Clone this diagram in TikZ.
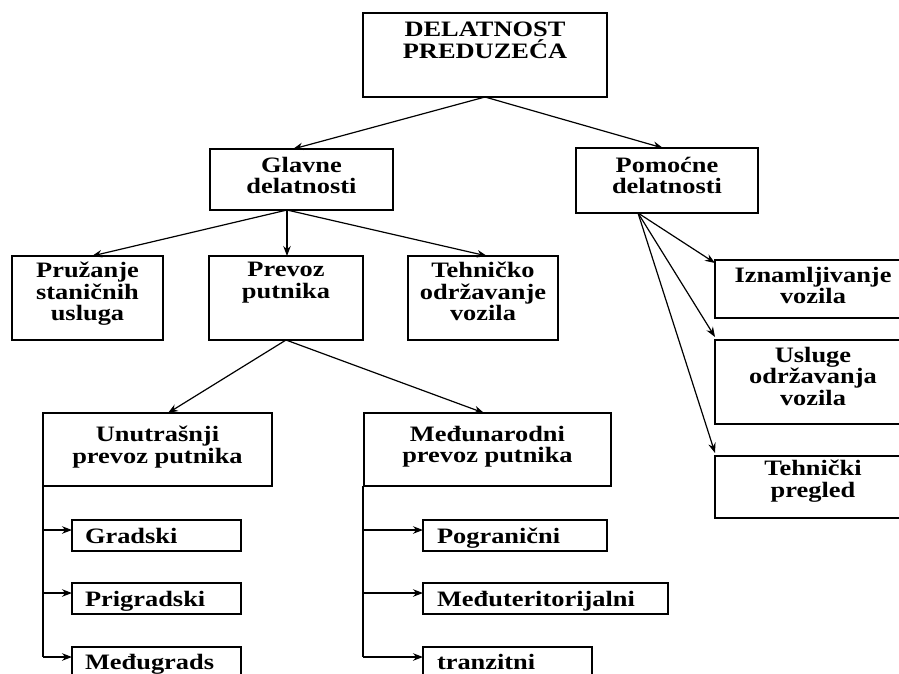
\documentclass[tikz,border=0pt]{standalone}
\usepackage{fontspec}
\setmainfont{Liberation Serif}[FakeStretch=1.2]
\usetikzlibrary{arrows.meta}
\newcommand{\mylsl}{\lineskiplimit=-20pt\relax}
\begin{document}
\begin{tikzpicture}[x=1pt,y=-1pt,
  box/.style={draw=black, line width=1.4pt, inner sep=0pt, outer sep=0pt, anchor=north west},
  lbl/.style={inner sep=0pt, outer sep=0pt, align=center, anchor=north,
    font={\bfseries\fontsize{22}{21.7}\selectfont\mylsl},
    execute at begin node={\rule{0pt}{16pt}}},
  itm/.style={inner sep=0pt, outer sep=0pt, anchor=base west,
    font={\bfseries\fontsize{22}{21.7}\selectfont}},
  arr/.style={line width=1.2pt, -{Stealth[length=10pt,width=7.5pt]}},
  ln/.style={line width=1.2pt}]
\useasboundingbox (0,0) rectangle (899,673);
\clip (0,0) rectangle (899,673);

% boxes
\node[box, minimum width=244pt, minimum height=84pt] (top)  at (363,13) {};
\node[box, minimum width=183pt, minimum height=61pt] (gl)   at (210,149) {};
\node[box, minimum width=182pt, minimum height=65pt] (pom)  at (576,148) {};
\node[box, minimum width=151pt, minimum height=84pt] (pru)  at (12,256) {};
\node[box, minimum width=154pt, minimum height=84pt] (prev) at (209,256) {};
\node[box, minimum width=150pt, minimum height=84pt] (teh)  at (408,256) {};
\node[box, minimum width=229pt, minimum height=73pt] (unu)  at (43,413) {};
\node[box, minimum width=247pt, minimum height=73pt] (med)  at (364,413) {};
\node[box, minimum width=196pt, minimum height=58pt] (izn)  at (715,260) {};
\node[box, minimum width=196pt, minimum height=84pt] (usl)  at (715,340) {};
\node[box, minimum width=196pt, minimum height=62pt] (tpr)  at (715,456) {};
\node[box, minimum width=169pt, minimum height=31pt] (gra)  at (72,520) {};
\node[box, minimum width=169pt, minimum height=31pt] (pri)  at (72,583) {};
\node[box, minimum width=169pt, minimum height=31pt] (mgr)  at (72,647) {};
\node[box, minimum width=184pt, minimum height=31pt] (pog)  at (423,520) {};
\node[box, minimum width=245pt, minimum height=31pt] (mte)  at (423,583) {};
\node[box, minimum width=169pt, minimum height=31pt] (tra)  at (423,647) {};

% labels
\node[lbl] (ttop)  at (485,22)    {DELATNOST\\PREDUZEĆA};
\node[lbl] (tgl)   at (301.5,157) {Glavne\\delatnosti};
\node[lbl] (tpom)  at (667,157)   {Pomoćne\\delatnosti};
\node[lbl] (tpru)  at (87.5,262)  {Pružanje\\staničnih\\usluga};
\node[lbl] (tprev) at (286,262)   {Prevoz\\putnika};
\node[lbl] (tteh)  at (483,262)   {Tehničko\\održavanje\\vozila};
\node[lbl] (tunu)  at (157.5,426) {Unutrašnji\\prevoz putnika};
\node[lbl] (tmed)  at (487.5,426) {Međunarodni\\prevoz putnika};
\node[lbl] (tizn)  at (813,267)   {Iznamljivanje\\vozila};
\node[lbl] (tusl)  at (813,347)   {Usluge\\održavanja\\vozila};
\node[lbl] (ttpr)  at (813,460)   {Tehnički\\pregled};
\node[itm] (tgra)  at (85,543)  {Gradski};
\node[itm] (tpri)  at (85,606)  {Prigradski};
\node[itm] (tmgr)  at (85,669)  {Međugrads};
\node[itm] (tpog)  at (437,543) {Pogranični};
\node[itm] (tmte)  at (437,606) {Međuteritorijalni};
\node[itm] (ttra)  at (437,669) {tranzitni};

% connectors
\draw[arr] (top.south) -- ([xshift=-8.5pt]gl.north);
\draw[arr] (top.south) -- ([xshift=-4pt]pom.north);

\coordinate (g0) at ([xshift=-14.5pt]gl.south);
\draw[arr] (g0) -- ([xshift=4.5pt]pru.north);
\draw[arr] (g0) -- (g0 |- prev.north);
\draw[arr] (g0) -- ([xshift=4pt]teh.north);

\draw[arr] (prev.south) -- ([xshift=10.5pt]unu.north);
\draw[arr] (prev.south) -- ([xshift=-3.5pt]med.north);

\coordinate (p0) at ([xshift=62pt]pom.south west);
\draw[arr] (p0) -- ([yshift=-3pt]izn.north west);
\draw[arr] (p0) -- ([yshift=3pt]usl.north west);
\draw[arr] (p0) -- ([yshift=3pt]tpr.north west);

\coordinate (ga) at ([yshift=-10pt]gra.north west);
\coordinate (pa) at ([yshift=-10pt]pri.north west);
\coordinate (ma) at ([yshift=-10pt]mgr.north west);
\draw[ln] (unu.south west) -- (unu.south west |- ma);
\draw[arr] (unu.south west |- ga) -- (ga);
\draw[arr] (unu.south west |- pa) -- (pa);
\draw[arr] (unu.south west |- ma) -- (ma);

\coordinate (qa) at ([yshift=-10pt]pog.north west);
\coordinate (ra) at ([yshift=-10pt]mte.north west);
\coordinate (sa) at ([yshift=-10pt]tra.north west);
\coordinate (v0) at ([xshift=-1pt]med.south west);
\draw[ln] (v0) -- (v0 |- sa);
\draw[arr] (v0 |- qa) -- (qa);
\draw[arr] (v0 |- ra) -- (ra);
\draw[arr] (v0 |- sa) -- (sa);
\end{tikzpicture}
\end{document}
